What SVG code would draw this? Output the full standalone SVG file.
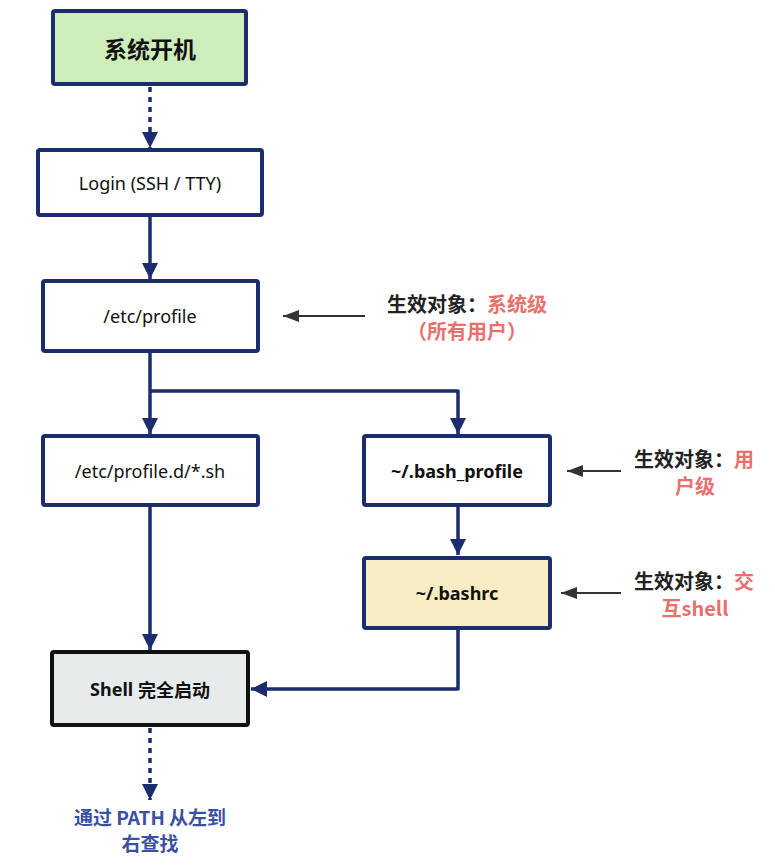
<svg xmlns="http://www.w3.org/2000/svg" width="775" height="865" viewBox="0 0 775 865">
<defs>
<style>
.box{stroke:#1b2d6e;stroke-width:4;fill:#ffffff}
.t{font-family:"Noto Sans","Noto Sans CJK SC",sans-serif;font-size:18px;fill:#111;text-anchor:middle;dominant-baseline:central}
.b{font-weight:bold}
.con{fill:none;stroke:#1b2d6e;stroke-width:3.5;stroke-linejoin:round}
.dot{stroke-dasharray:5 5}
.ann{fill:none;stroke:#333;stroke-width:2}
.lab{font-family:"Noto Sans CJK SC",sans-serif;font-size:20px;font-weight:bold;text-anchor:middle;dominant-baseline:central}
.k{fill:#222}
.r{fill:#e8706f}
.blue{fill:#3b50a3}
</style>
<marker id="ah" viewBox="0 0 16 16" refX="16" refY="8" markerWidth="16" markerHeight="16" markerUnits="userSpaceOnUse" orient="auto">
<path d="M0,0 L16,8 L0,16 Z" fill="#1b2d6e"/>
</marker>
<marker id="ag" viewBox="0 0 16 12" refX="16" refY="6" markerWidth="16" markerHeight="12" markerUnits="userSpaceOnUse" orient="auto">
<path d="M0,0 L16,6 L0,12 Z" fill="#333"/>
</marker>
</defs>
<rect width="775" height="865" fill="#ffffff"/>

<g id="connectors">
<path class="con dot" d="M150,87 L150,148" marker-end="url(#ah)"/>
<path class="con" d="M150,217 L150,279" marker-end="url(#ah)"/>
<path class="con" d="M150,353 L150,434" marker-end="url(#ah)"/>
<path class="con" d="M150,391 L458,391 L458,434" marker-end="url(#ah)"/>
<path class="con" d="M458,507 L458,555" marker-end="url(#ah)"/>
<path class="con" d="M150,507 L150,650" marker-end="url(#ah)"/>
<path class="con" d="M458,630 L458,689 L251,689" marker-end="url(#ah)"/>
<path class="con dot" d="M150,728 L150,800" marker-end="url(#ah)"/>
<path class="ann" d="M365,316 L283,316" marker-end="url(#ag)"/>
<path class="ann" d="M621,471 L567,471" marker-end="url(#ag)"/>
<path class="ann" d="M621,593 L561,593" marker-end="url(#ag)"/>
</g>

<g id="boot">
<rect class="box" x="53" y="11" width="193" height="73" rx="2" style="fill:#cdeebb"/>
<text class="t b" x="150" y="48" style="font-size:23px;font-family:'Noto Sans CJK SC',sans-serif">系统开机</text>
</g>
<g id="login">
<rect class="box" x="38" y="150" width="224" height="65" rx="2"/>
<text class="t" x="150" y="183">Login (SSH / TTY)</text>
</g>
<g id="etcprofile">
<rect class="box" x="43" y="281" width="215" height="70" rx="2"/>
<text class="t" x="150" y="316">/etc/profile</text>
</g>
<g id="profiled">
<rect class="box" x="43" y="436" width="215" height="69" rx="2"/>
<text class="t" x="150" y="471">/etc/profile.d/*.sh</text>
</g>
<g id="bashprofile">
<rect class="box" x="364" y="436" width="186" height="69" rx="2"/>
<text class="t b" x="457" y="471">~/.bash_profile</text>
</g>
<g id="bashrc">
<rect class="box" x="364" y="558" width="186" height="70" rx="2" style="fill:#f7ecc3"/>
<text class="t b" x="457" y="593">~/.bashrc</text>
</g>
<g id="shell">
<rect class="box" x="52" y="652" width="196" height="73" rx="2" style="fill:#e8ebec;stroke:#111"/>
<text class="t b" x="150" y="689"><tspan font-family="Noto Sans,sans-serif">Shell </tspan><tspan font-family="Noto Sans CJK SC,sans-serif">完全启动</tspan></text>
</g>

<g id="label-system">
<text class="lab" x="467" y="303"><tspan class="k">生效对象：</tspan><tspan class="r">系统级</tspan></text>
<text class="lab r" x="467" y="330">（所有用户）</text>
</g>
<g id="label-user">
<text class="lab" x="694" y="458"><tspan class="k">生效对象：</tspan><tspan class="r">用</tspan></text>
<text class="lab r" x="695" y="485">户级</text>
</g>
<g id="label-interactive">
<text class="lab" x="694" y="580"><tspan class="k">生效对象：</tspan><tspan class="r">交</tspan></text>
<text class="lab r" x="695" y="607">互shell</text>
</g>
<g id="label-path">
<text class="lab blue" x="150" y="816" style="font-size:19px">通过 PATH 从左到</text>
<text class="lab blue" x="150" y="842" style="font-size:19px">右查找</text>
</g>
</svg>
